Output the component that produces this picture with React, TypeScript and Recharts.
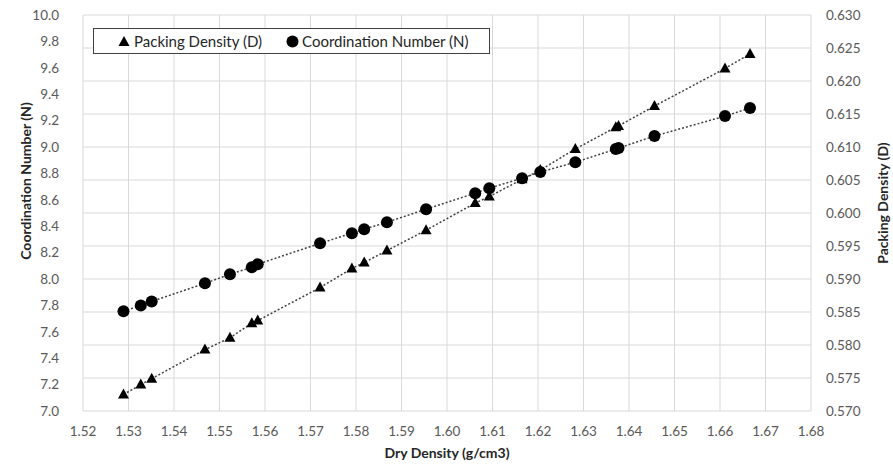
import React from 'react';
import { ComposedChart, Line, XAxis, YAxis, CartesianGrid, Legend } from 'recharts';

const dryDensity = [
  1.5289, 1.5327, 1.5351, 1.5468, 1.5523, 1.5571, 1.5584, 1.5721, 1.5791, 1.5818, 1.5868,
  1.5954, 1.6062, 1.6093, 1.6165, 1.6205, 1.6282, 1.6371, 1.6377, 1.6456, 1.6611, 1.6666,
];
const coordinationNumber = [
  7.755, 7.8, 7.83, 7.967, 8.036, 8.089, 8.112, 8.27, 8.347, 8.377, 8.43,
  8.529, 8.65, 8.688, 8.764, 8.81, 8.885, 8.984, 8.992, 9.083, 9.234, 9.295,
];
const packingDensity = [
  0.5725, 0.574, 0.5749, 0.5793, 0.5811, 0.5833, 0.5837, 0.5887, 0.5916, 0.5925, 0.5943,
  0.5974, 0.6015, 0.6025, 0.6051, 0.6065, 0.6097, 0.613, 0.6132, 0.6162, 0.6219, 0.6241,
];
const xTicks = [1.52, 1.53, 1.54, 1.55, 1.56, 1.57, 1.58, 1.59, 1.6, 1.61, 1.62, 1.63, 1.64, 1.65, 1.66, 1.67, 1.68];
const leftTicks = [7.0, 7.2, 7.4, 7.6, 7.8, 8.0, 8.2, 8.4, 8.6, 8.8, 9.0, 9.2, 9.4, 9.6, 9.8, 10.0];
const rightTicks = [0.57, 0.575, 0.58, 0.585, 0.59, 0.595, 0.6, 0.605, 0.61, 0.615, 0.62, 0.625, 0.63];

const data = dryDensity.map((x, i) => ({ x, N: coordinationNumber[i], D: packingDensity[i] }));

const FONT = 'Lato, "Open Sans", sans-serif';
const tickStyle = { fontSize: 13.5, fill: '#595959', fontFamily: FONT };

const TriangleDot = (props: any) => {
  const { cx, cy, index } = props;
  if (cx == null || cy == null) return <g key={`t-${index}`} />;
  return (
    <path
      key={`t-${index}`}
      d={`M${cx},${cy - 6}L${cx + 5.5},${cy + 4}L${cx - 5.5},${cy + 4}Z`}
      fill="#000"
    />
  );
};

const CircleDot = (props: any) => {
  const { cx, cy, index } = props;
  if (cx == null || cy == null) return <g key={`c-${index}`} />;
  return <circle key={`c-${index}`} cx={cx} cy={cy} r={6} fill="#000" />;
};

const renderLegend = () => (
  <div
    style={{
      boxSizing: 'border-box',
      width: 397,
      height: 26,
      border: '1px solid #404040',
      background: '#fff',
      display: 'flex',
      alignItems: 'center',
      fontFamily: FONT,
      fontSize: 15,
      color: '#262626',
      paddingLeft: 24,
    }}
  >
    <svg width={12} height={12} style={{ marginRight: 4 }}>
      <path d="M6,1L11.5,11L0.5,11Z" fill="#000" />
    </svg>
    <span>Packing Density (D)</span>
    <svg width={13} height={13} style={{ marginLeft: 24, marginRight: 3 }}>
      <circle cx={6.5} cy={6.5} r={6} fill="#000" />
    </svg>
    <span>Coordination Number (N)</span>
  </div>
);

const leftTitle = (props: any) => {
  const vb = props.viewBox || {};
  const x = vb.x + 25;
  const y = vb.y + vb.height / 2 - 32;
  return (
    <text
      x={x}
      y={y}
      transform={`rotate(-90, ${x}, ${y})`}
      textAnchor="middle"
      dominantBaseline="central"
      fontFamily={FONT}
      fontWeight="bold"
      fontSize={14}
      fill="#262626"
    >
      Coordination Number (N)
    </text>
  );
};

const rightTitle = (props: any) => {
  const vb = props.viewBox || {};
  const x = vb.x + 71;
  const y = vb.y + vb.height / 2 - 10;
  return (
    <text
      x={x}
      y={y}
      transform={`rotate(-90, ${x}, ${y})`}
      textAnchor="middle"
      dominantBaseline="central"
      fontFamily={FONT}
      fontWeight="bold"
      fontSize={14}
      fill="#262626"
    >
      Packing Density (D)
    </text>
  );
};

const bottomTitle = (props: any) => {
  const vb = props.viewBox || {};
  const x = vb.x + vb.width / 2;
  const y = vb.y + 41;
  return (
    <text
      x={x}
      y={y}
      textAnchor="middle"
      dominantBaseline="central"
      fontFamily={FONT}
      fontWeight="bold"
      fontSize={14}
      fill="#262626"
    >
      Dry Density (g/cm3)
    </text>
  );
};

export default function App() {
  return (
    <div style={{ position: 'absolute', left: 0, top: 0, width: 893, height: 466, background: '#fff' }}>
      <ComposedChart
        width={893}
        height={466}
        data={data}
        margin={{ top: 15, right: 0, bottom: 0, left: 0 }}
      >
        <CartesianGrid yAxisId="right" stroke="#d9d9d9" strokeWidth={1} />
        <XAxis
          type="number"
          dataKey="x"
          domain={[1.52, 1.68]}
          ticks={xTicks}
          interval={0}
          tickFormatter={(v: number) => v.toFixed(2)}
          axisLine={false}
          tickLine={false}
          tickSize={0}
          tickMargin={15}
          height={55}
          tick={tickStyle}
          label={{ content: bottomTitle }}
        />
        <YAxis
          yAxisId="left"
          orientation="left"
          domain={[7, 10]}
          ticks={leftTicks}
          interval={0}
          tickFormatter={(v: number) => v.toFixed(1)}
          axisLine={false}
          tickLine={false}
          tickSize={0}
          tickMargin={24}
          width={83}
          tick={tickStyle}
          label={{ content: leftTitle }}
        />
        <YAxis
          yAxisId="right"
          orientation="right"
          domain={[0.57, 0.63]}
          ticks={rightTicks}
          interval={0}
          tickFormatter={(v: number) => v.toFixed(3)}
          axisLine={false}
          tickLine={false}
          tickSize={0}
          tickMargin={15}
          width={82}
          tick={tickStyle}
          label={{ content: rightTitle }}
        />
        <Legend
          verticalAlign="middle"
          align="center"
          layout="horizontal"
          wrapperStyle={{ left: 93, top: 28, width: 397, height: 26 }}
          content={renderLegend}
        />
        <Line
          yAxisId="right"
          dataKey="D"
          name="Packing Density (D)"
          stroke="#404040"
          strokeWidth={1.5}
          strokeDasharray="2 2"
          dot={TriangleDot}
          activeDot={false}
          isAnimationActive={false}
        />
        <Line
          yAxisId="left"
          dataKey="N"
          name="Coordination Number (N)"
          stroke="#404040"
          strokeWidth={1.5}
          strokeDasharray="2 2"
          dot={CircleDot}
          activeDot={false}
          isAnimationActive={false}
        />
      </ComposedChart>
    </div>
  );
}
